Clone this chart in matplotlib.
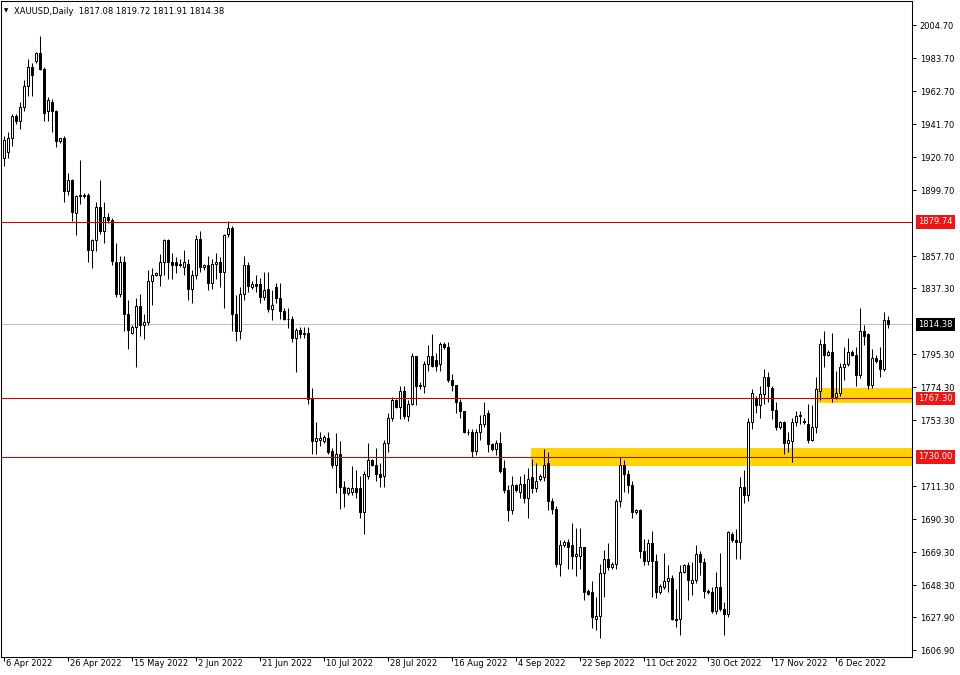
import matplotlib
matplotlib.use("Agg")
import matplotlib.pyplot as plt
from matplotlib.patches import Rectangle
import matplotlib.transforms as mtransforms

# daily XAUUSD bars (broker feed with short Sunday bars), 6 Apr 2022 .. 21 Dec 2022
opens = [1920, 1924, 1933, 1947, 1944, 1953, 1966, 1978, 1982, 1987, 1977, 1950, 1956, 1950, 1931, 1933,
         1899, 1906, 1885, 1896, 1896, 1897, 1862, 1868, 1889, 1874, 1883, 1881, 1854, 1834, 1854, 1821,
         1809, 1813, 1826, 1814, 1816, 1842, 1846, 1846, 1854, 1868, 1854, 1854, 1853, 1851, 1853, 1837,
         1846, 1869, 1851, 1852, 1841, 1853, 1854, 1848, 1872, 1876, 1821, 1810, 1834, 1852, 1838, 1840,
         1840, 1832, 1837, 1824, 1838, 1831, 1823, 1818, 1818, 1806, 1811, 1808, 1809, 1767, 1740, 1741,
         1740, 1742, 1734, 1725, 1732, 1711, 1707, 1708, 1710, 1710, 1695, 1718, 1728, 1725, 1719, 1718,
         1739, 1755, 1766, 1762, 1772, 1756, 1764, 1794, 1775, 1775, 1789, 1794, 1792, 1789, 1802, 1800,
         1779, 1776, 1765, 1759, 1746, 1746, 1734, 1746, 1751, 1758, 1738, 1735, 1739, 1723, 1709, 1696,
         1712, 1708, 1713, 1704, 1717, 1710, 1716, 1717, 1726, 1702, 1697, 1662, 1674, 1676, 1674, 1667,
         1667, 1673, 1645, 1644, 1627, 1629, 1656, 1665, 1660, 1662, 1702, 1725, 1719, 1712, 1695, 1696,
         1670, 1664, 1675, 1664, 1644, 1647, 1651, 1653, 1627, 1627, 1657, 1661, 1650, 1652, 1668, 1663,
         1645, 1644, 1632, 1647, 1633, 1630, 1681, 1677, 1676, 1711, 1706, 1752, 1767, 1763, 1770, 1781,
         1774, 1760, 1749, 1752, 1739, 1740, 1752, 1756, 1753, 1751, 1741, 1749, 1772, 1802, 1795, 1797,
         1768, 1771, 1787, 1789, 1797, 1795, 1782, 1810, 1808, 1776, 1793, 1792, 1786, 1817.08]
highs = [1934, 1937, 1948, 1948, 1956, 1970, 1983, 1981, 1988, 1998, 1978, 1959, 1958, 1951, 1933, 1934,
         1911, 1907, 1897, 1919, 1898, 1898, 1869, 1892, 1906, 1892, 1885, 1882, 1866, 1858, 1858, 1830,
         1814, 1831, 1834, 1821, 1849, 1850, 1848, 1859, 1869, 1869, 1860, 1857, 1856, 1862, 1856, 1849,
         1871, 1874, 1853, 1858, 1856, 1860, 1857, 1872, 1880, 1877, 1833, 1838, 1858, 1854, 1842, 1846,
         1844, 1848, 1848, 1836, 1841, 1841, 1825, 1825, 1820, 1812, 1813, 1813, 1813, 1774, 1752, 1746,
         1744, 1746, 1736, 1745, 1740, 1715, 1711, 1724, 1722, 1718, 1721, 1739, 1729, 1736, 1726, 1741,
         1758, 1768, 1767, 1775, 1775, 1766, 1796, 1794, 1778, 1791, 1801, 1808, 1796, 1803, 1803, 1803,
         1783, 1776, 1767, 1759, 1748, 1748, 1748, 1757, 1765, 1760, 1739, 1741, 1746, 1728, 1712, 1718,
         1713, 1718, 1719, 1723, 1729, 1726, 1719, 1735, 1733, 1704, 1699, 1677, 1677, 1678, 1688, 1685,
         1685, 1673, 1646, 1651, 1641, 1662, 1671, 1675, 1663, 1703, 1730, 1728, 1722, 1715, 1697, 1697,
         1678, 1678, 1683, 1668, 1649, 1669, 1661, 1655, 1646, 1661, 1662, 1663, 1663, 1674, 1670, 1666,
         1646, 1647, 1657, 1669, 1638, 1683, 1682, 1684, 1717, 1722, 1755, 1773, 1769, 1775, 1786, 1784,
         1775, 1765, 1753, 1753, 1746, 1755, 1759, 1759, 1755, 1764, 1763, 1781, 1805, 1810, 1798, 1809,
         1785, 1790, 1800, 1806, 1798, 1800, 1825, 1814, 1809, 1799, 1795, 1800, 1822, 1819.72]
lows = [1915, 1920, 1928, 1942, 1939, 1950, 1960, 1960, 1981, 1976, 1944, 1944, 1937, 1927, 1930, 1892,
        1897, 1880, 1871, 1891, 1895, 1854, 1850, 1861, 1872, 1866, 1879, 1852, 1832, 1832, 1810, 1799,
        1808, 1787, 1807, 1805, 1814, 1827, 1845, 1839, 1846, 1843, 1843, 1847, 1851, 1846, 1830, 1828,
        1843, 1848, 1849, 1836, 1837, 1843, 1838, 1825, 1870, 1810, 1804, 1805, 1830, 1835, 1837, 1835,
        1828, 1830, 1822, 1817, 1828, 1818, 1817, 1812, 1803, 1784, 1806, 1806, 1764, 1732, 1732, 1737,
        1739, 1732, 1723, 1707, 1697, 1698, 1706, 1706, 1704, 1691, 1681, 1716, 1724, 1715, 1711, 1711,
        1733, 1753, 1761, 1754, 1754, 1753, 1763, 1763, 1773, 1771, 1785, 1787, 1785, 1785, 1799, 1778,
        1772, 1758, 1755, 1745, 1744, 1730, 1731, 1741, 1749, 1733, 1734, 1731, 1720, 1707, 1689, 1694,
        1708, 1704, 1701, 1691, 1707, 1708, 1715, 1715, 1696, 1694, 1660, 1654, 1673, 1659, 1659, 1654,
        1659, 1639, 1642, 1621, 1620, 1615, 1641, 1658, 1659, 1659, 1698, 1708, 1707, 1691, 1694, 1666,
        1661, 1661, 1641, 1640, 1643, 1646, 1644, 1626, 1622, 1617, 1656, 1639, 1642, 1650, 1655, 1640,
        1643, 1631, 1630, 1632, 1617, 1628, 1676, 1665, 1665, 1701, 1702, 1748, 1758, 1755, 1764, 1765,
        1754, 1747, 1748, 1732, 1733, 1727, 1750, 1751, 1751, 1739, 1740, 1745, 1766, 1787, 1794, 1765,
        1767, 1769, 1779, 1788, 1794, 1775, 1780, 1801, 1773, 1774, 1790, 1781, 1785, 1811.91]
closes = [1932, 1933, 1947, 1944, 1953, 1966, 1978, 1973, 1987, 1977, 1949, 1957, 1950, 1931, 1933, 1899,
          1906, 1886, 1896, 1897, 1897, 1862, 1868, 1889, 1874, 1883, 1881, 1855, 1834, 1854, 1821, 1811,
          1813, 1826, 1814, 1816, 1842, 1846, 1847, 1854, 1868, 1854, 1852, 1852, 1852, 1854, 1837, 1846,
          1869, 1851, 1852, 1841, 1853, 1854, 1848, 1871, 1876, 1821, 1810, 1834, 1852, 1839, 1840, 1839,
          1832, 1836, 1824, 1827, 1831, 1823, 1818, 1818, 1806, 1811, 1808, 1809, 1767, 1740, 1742, 1742,
          1743, 1733, 1725, 1732, 1711, 1707, 1710, 1710, 1708, 1695, 1719, 1728, 1725, 1719, 1717, 1739,
          1755, 1766, 1762, 1772, 1756, 1764, 1794, 1775, 1776, 1789, 1794, 1788, 1788, 1802, 1800, 1779,
          1776, 1765, 1759, 1746, 1746, 1734, 1746, 1751, 1757, 1738, 1735, 1739, 1721, 1709, 1696, 1712,
          1709, 1713, 1704, 1716, 1710, 1715, 1718, 1725, 1702, 1697, 1662, 1674, 1676, 1673, 1667, 1668,
          1673, 1644, 1643, 1628, 1629, 1656, 1665, 1660, 1662, 1702, 1725, 1719, 1712, 1695, 1696, 1670,
          1664, 1675, 1664, 1644, 1648, 1651, 1653, 1627, 1626, 1657, 1661, 1652, 1652, 1668, 1663, 1645,
          1644, 1632, 1647, 1633, 1630, 1682, 1677, 1676, 1711, 1706, 1752, 1771, 1763, 1770, 1781, 1775,
          1760, 1749, 1752, 1739, 1741, 1752, 1756, 1757, 1752, 1741, 1749, 1773, 1802, 1795, 1797, 1768,
          1771, 1787, 1789, 1797, 1795, 1782, 1810, 1807, 1776, 1793, 1791, 1786, 1817, 1814.38]

date_labels = ["6 Apr 2022", "26 Apr 2022", "15 May 2022", "2 Jun 2022", "21 Jun 2022", "10 Jul 2022",
               "28 Jul 2022", "16 Aug 2022", "4 Sep 2022", "22 Sep 2022", "11 Oct 2022", "30 Oct 2022",
               "17 Nov 2022", "6 Dec 2022"]
date_every = 16  # one label every 16 bars

price_ticks = [2004.70, 1983.70, 1962.70, 1941.70, 1920.70, 1899.70, 1857.70, 1837.30, 1795.30,
               1774.30, 1753.30, 1711.30, 1690.30, 1669.30, 1648.30, 1627.90, 1606.90]

levels = [1879.74, 1767.30, 1730.00]     # red horizontal lines
last_price = 1814.38
zone_start = [131.9, 202.9]              # bar where each yellow zone begins
zone_low = [1724.3, 1764.2]
zone_high = [1735.4, 1774.0]

header = "XAUUSD,Daily  1817.08 1819.72 1811.91 1814.38"

plt.rcParams["font.family"] = ["DejaVu Sans"]
FS = 6

fig = plt.figure(figsize=(9.6, 6.75), dpi=100)
ax = fig.add_axes([1 / 960, 18 / 675, 911 / 960, 656 / 675])
n = len(opens)
x_right = -0.625 + 911 / 4
ax.set_xlim(-0.625, x_right)
ax.set_ylim(1602.7, 2020.2)

# yellow zones (background)
for s, lo, hi in zip(zone_start, zone_low, zone_high):
    ax.add_patch(Rectangle((s, lo), x_right - s, hi - lo, facecolor="#ffd400",
                           edgecolor="none", zorder=0.5))

ax.axhline(last_price, color="#c0c0c0", lw=0.75, zorder=1)

xs = list(range(n))
ax.vlines(xs, lows, highs, color="black", lw=0.75, zorder=2)
for i in xs:
    up = closes[i] >= opens[i]
    ax.bar(i, closes[i] - opens[i], bottom=opens[i], width=0.5,
           color="white" if up else "black", edgecolor="black", linewidth=0.72, zorder=3)

for lv in levels:
    ax.axhline(lv, color="#d00000", lw=0.75, zorder=4)

# axes frame and right price scale
for sp in ax.spines.values():
    sp.set_linewidth(0.75)
    sp.set_color("black")
ax.yaxis.tick_right()
ax.set_yticks(price_ticks, ["%.2f" % v for v in price_ticks])
ax.tick_params(axis="y", length=2.9, width=0.72, pad=2.6, labelsize=FS, colors="black")

ax.set_xticks([k * date_every for k in range(len(date_labels))], [""] * len(date_labels))
ax.tick_params(axis="x", length=3, width=0.72, direction="out")
for k, lab in enumerate(date_labels):
    ax.annotate(lab, xy=(k * date_every, 0), xycoords=("data", "axes fraction"),
                xytext=(1.5, -1.2), textcoords="offset points", ha="left", va="top", fontsize=FS)

# boxed price labels on the right
for lv in levels:
    ax.annotate("%.2f" % lv, xy=(1, lv), xycoords=("axes fraction", "data"),
                xytext=(4.2, 0), textcoords="offset points", ha="left", va="center",
                fontsize=FS, color="white",
                bbox=dict(boxstyle="square,pad=0.28", fc="#f01414", ec="none"))
ax.annotate("%.2f" % last_price, xy=(1, last_price), xycoords=("axes fraction", "data"),
            xytext=(4.2, 0), textcoords="offset points", ha="left", va="center",
            fontsize=FS, color="white",
            bbox=dict(boxstyle="square,pad=0.28", fc="black", ec="none"))

fig.text(4 / 960, 1 - 11 / 675, "\u25bc", fontsize=4, va="center", ha="left")
fig.text(14 / 960, 1 - 11 / 675, header, fontsize=FS, va="center", ha="left")

fig.savefig("out.png", dpi=100, facecolor="white")
